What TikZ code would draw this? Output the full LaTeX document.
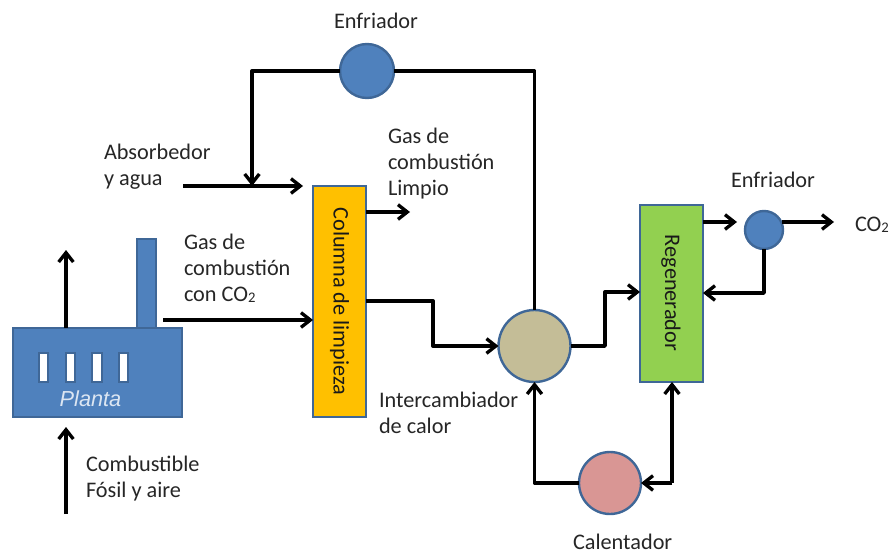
\documentclass[tikz,border=0pt]{standalone}
\usepackage{fontspec}
\setmainfont{Carlito}
\usetikzlibrary{arrows.meta}
\definecolor{bluefill}{HTML}{4F81BD}
\definecolor{blueedge}{HTML}{3F6797}
\definecolor{orangefill}{HTML}{FFC000}
\definecolor{greenfill}{HTML}{92D050}
\definecolor{tanfill}{HTML}{C4BD97}
\definecolor{pinkfill}{HTML}{D99694}
\definecolor{plantext}{HTML}{DCE6F2}
\tikzset{
  x=0.75pt,y=-0.75pt,
  conn/.style={draw=black,line width=2.5pt,line join=round},
  arr/.style={conn,-{Straight Barb[length=7pt,width=11pt,line width=2.5pt]}},
  unit/.style={draw=blueedge,line width=1.8pt,inner sep=0pt,outer sep=0pt},
  ball/.style={unit,circle,minimum size=#1},
  lab/.style={inner sep=0pt,outer sep=0pt,anchor=north west,align=left,font=\fontsize{16.7pt}{19.5pt}\selectfont,text=black!85},
  vlab/.style={rotate=-90,inner sep=0pt,font=\fontsize{16.7pt}{18pt}\selectfont,text=black!90},
  win/.style={rectangle,draw=blueedge,line width=1.4pt,fill=white,minimum width=7.2pt,minimum height=21.5pt,inner sep=0pt}
}
\newcommand{\subtwo}{\raisebox{-0.1ex}{\fontsize{11pt}{12pt}\selectfont 2}}
\begin{document}
\begin{tikzpicture}
\useasboundingbox (0,0) rectangle (893,553);
% plant
\node[unit,fill=bluefill,minimum width=14.2pt,minimum height=66.7pt] (chim) at (146.5,283.5) {};
\node[unit,fill=bluefill,minimum width=126.7pt,minimum height=66.7pt] (plant) at (97.5,372.5) {};
\node[win] (w1) at (43.5,367.5) {};
\node[win] (w2) at (70.5,367.5) {};
\node[win] (w3) at (97,367.5) {};
\node[win] (w4) at (123.5,367.5) {};
\node[inner sep=0pt,text=plantext,font=\fontsize{16.3pt}{18pt}\selectfont\fontspec{Liberation Sans}\itshape] (plantlab) at (90.5,398.5) {Planta};
% units
\node[unit,fill=orangefill,minimum width=39.7pt,minimum height=173pt] (col) at (339.5,301.5) {};
\node[vlab] (collab) at (339.5,301.5) {Columna de limpieza};
\node[unit,fill=greenfill,minimum width=47.2pt,minimum height=132.7pt] (reg) at (671.5,293.5) {};
\node[vlab] (reglab) at (671,293) {Regenerador};
\node[ball=40.5pt,fill=bluefill] (enf1) at (367,71) {};
\node[ball=28.5pt,fill=bluefill] (enf2) at (764,230) {};
\node[ball=54pt,fill=tanfill] (hx) at (534.5,346) {};
\node[ball=46.5pt,fill=pinkfill] (cal) at (610,483) {};
% free ends
\coordinate (a1) at (66,328);
\coordinate (a2) at (66,250);
\coordinate (b1) at (66,514);
\coordinate (b2) at (66,427);
\coordinate (c1) at (163,320);
\coordinate (d1) at (183,186);
\coordinate (d2) at (303,186);
\coordinate (d3) at (252,186);
\coordinate (e1) at (410,212);
\coordinate (f1) at (737,222);
\coordinate (f0) at (782,222);
\coordinate (f2) at (834,222);
\coordinate (j) at (672,483);
% connectors
\draw[arr] (a1) -- (a2);
\draw[arr] (b1) -- (b2);
\draw[arr] (c1) -- (c1 -| col.west);
\draw[arr] (d1) -- (d2);
\draw[arr] (enf1.west) -| (d3);
\draw[conn] (enf1.east) -| (hx.north);
\draw[arr] (col.east |- e1) -- (e1);
\draw[arr] (col.east |- 0,301) -- (433,301) -- (433,346) -- (hx.west);
\draw[arr] (hx.east) -- (605,346) -- (605,292) -- (reg.west |- 0,292);
\draw[arr] (reg.east |- f1) -- (f1);
\draw[arr] (f0) -- (f2);
\draw[arr] (enf2.south) |- (reg.east |- 0,293);
\draw[arr] (cal.west) -| (hx.south);
\draw[arr] (j) -- (reg.south -| j);
\draw[arr] (j) -- (cal.east);
% labels
\node[lab] (l1) at (334,13) {Enfriador};
\node[lab] (l2) at (104,144) {Absorbedor\\y agua};
\node[lab] (l3) at (388,128) {Gas de\\combustión\\Limpio};
\node[lab] (l4) at (184,234) {Gas de\\combustión\\con CO\subtwo};
\node[lab] (l5) at (86,456) {Combustible\\Fósil y aire};
\node[lab] (l6) at (379,392) {Intercambiador\\de calor};
\node[lab] (l7) at (731,172) {Enfriador};
\node[lab] (l8) at (855,217) {CO\subtwo};
\node[lab] (l9) at (573,534) {Calentador};
\end{tikzpicture}
\end{document}
